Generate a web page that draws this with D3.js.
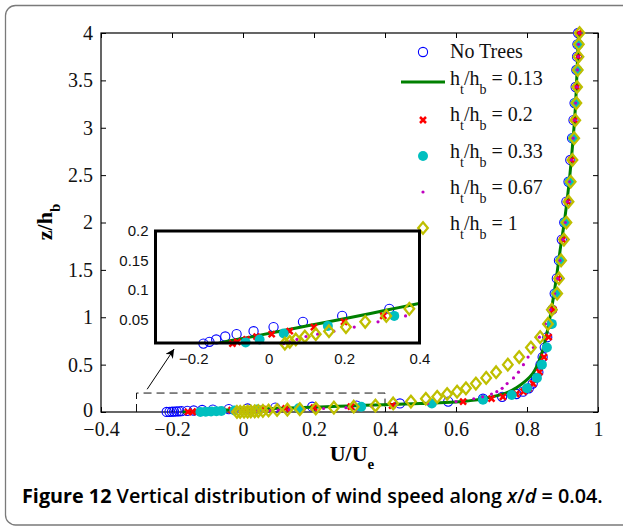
<!DOCTYPE html>
<html><head><meta charset="utf-8">
<script src="https://cdn.jsdelivr.net/npm/d3@7/dist/d3.min.js"></script>
<style>body{margin:0;background:#fff}svg{display:block}</style>
</head><body>
<svg id="c" width="623" height="527"></svg>
<script>
// ---------- data ----------
const xTicks = [-0.4, -0.2, 0, 0.2, 0.4, 0.6, 0.8, 1];
const yTicks = [0, 0.5, 1, 1.5, 2, 2.5, 3, 3.5, 4];
const insetXTicks = [-0.2, 0, 0.2, 0.4];
const insetYTicks = [0.05, 0.1, 0.15, 0.2];
const seriesLabels = ["No Trees", "0.13", "0.2", "0.33", "0.67", "1"];

// shared height levels (No Trees, 0.67, 1)
const zLevels = [0.0005,0.0015,0.003,0.0045,0.006,0.0075,0.009,0.012,0.016,0.021,0.025,0.03,0.037,0.046,0.056,0.068,0.09,0.11,0.14,0.16,0.19,0.215,0.25,0.30,0.36,0.42,0.50,0.58,0.68,0.79,0.93,1.08,1.25,1.41,1.60,1.82,2.00,2.22,2.43,2.66,2.89,3.08,3.26,3.43,3.61,3.75,3.88,4.00];
const uNoTrees = [-0.215,-0.207,-0.200,-0.194,-0.187,-0.180,-0.173,-0.157,-0.139,-0.115,-0.085,-0.04,0.013,0.091,0.195,0.32,0.442,0.578,0.676,0.73,0.77,0.789,0.805,0.816,0.825,0.832,0.838,0.844,0.85,0.857,0.864,0.871,0.878,0.884,0.890,0.898,0.905,0.911,0.917,0.922,0.927,0.931,0.934,0.937,0.939,0.941,0.942,0.944];
const uH067 = [-0.03,-0.02,-0.01,0.0,0.012,0.025,0.04,0.055,0.075,0.099,0.13,0.173,0.227,0.29,0.363,0.43,0.52,0.6,0.65,0.675,0.70,0.715,0.73,0.744,0.762,0.776,0.79,0.803,0.818,0.835,0.852,0.866,0.878,0.886,0.893,0.901,0.908,0.914,0.92,0.925,0.93,0.934,0.937,0.94,0.942,0.944,0.945,0.947];
const uH1 = [-0.017,-0.008,0.003,0.013,0.022,0.033,0.043,0.056,0.072,0.096,0.125,0.16,0.205,0.256,0.312,0.373,0.423,0.473,0.515,0.547,0.575,0.603,0.628,0.656,0.685,0.713,0.746,0.778,0.811,0.837,0.859,0.870,0.885,0.890,0.896,0.904,0.911,0.917,0.923,0.928,0.933,0.936,0.939,0.941,0.943,0.945,0.946,0.948];

// h_t/h_b = 0.2
const zH02 = [0.0005,0.0015,0.003,0.0045,0.006,0.0075,0.009,0.012,0.016,0.021,0.025,0.03,0.037,0.046,0.056,0.068,0.09,0.11,0.14,0.16,0.19,0.215,0.25,0.30,0.36,0.42,0.50,0.58,0.68,0.79,0.93,1.08,1.25,1.41,1.82,2.22,2.66,3.08,3.43,3.75,4.00];
const uH02 = [-0.155,-0.142,-0.13,-0.12,-0.113,-0.105,-0.096,-0.083,-0.059,-0.032,0.008,0.056,0.12,0.2,0.304,0.42,0.53,0.62,0.70,0.732,0.77,0.79,0.805,0.817,0.827,0.835,0.842,0.848,0.854,0.861,0.868,0.874,0.881,0.887,0.900,0.914,0.925,0.934,0.940,0.944,0.946];

// h_t/h_b = 0.33
const zH033 = [0.001,0.003,0.005,0.007,0.011,0.016,0.026,0.039,0.056,0.09,0.13,0.18,0.25,0.36,0.50,0.68,0.93,1.25,1.60,2.00,2.43,2.89,3.26,3.61,3.88];
const uH033 = [-0.12,-0.105,-0.09,-0.075,-0.061,-0.024,0.04,0.157,0.333,0.532,0.676,0.757,0.80,0.828,0.842,0.856,0.87,0.882,0.894,0.907,0.92,0.93,0.937,0.942,0.945];

// h_t/h_b = 0.13 (line)
const zLine = [0.001,0.005,0.01,0.02,0.03,0.04,0.05,0.06,0.07,0.08,0.09,0.1,0.12,0.15,0.2,0.26,0.33,0.41,0.5,0.6,0.7,0.83,1.0,1.2,1.45,1.7,2.0,2.4,2.8,3.2,3.6,4.0];
const uLine = [-0.17,-0.15,-0.128,-0.049,0.03,0.11,0.19,0.27,0.345,0.42,0.5,0.57,0.64,0.69,0.74,0.772,0.797,0.817,0.83,0.84,0.848,0.856,0.865,0.874,0.884,0.893,0.905,0.918,0.928,0.936,0.941,0.945];

// zoom window and arrow (data coordinates)
const zoomU = [-0.3, 0.4];
const zoomZ = [0, 0.2];
const arrowFrom = [-0.27, 0.24];
const arrowTo = [-0.194, 0.665];

// ---------- drawing ----------
const svg = d3.select('#c');
const SERIF = '"Liberation Serif","Times New Roman",serif';
const SANS = '"Liberation Sans",Arial,sans-serif';
const C = {blue:'#0000ff', green:'#008000', red:'#ff0000', cyan:'#00bfbf', mag:'#bf00bf', olive:'#bfbf00'};

svg.append('rect').attr('x',5.5).attr('y',5.5).attr('width',680).attr('height',519.5)
  .attr('rx',10).attr('fill','none').attr('stroke','#7a7a7a').attr('stroke-width',1.3);

const x = d3.scaleLinear().domain([-0.4, 1]).range([101, 598]);
const y = d3.scaleLinear().domain([0, 4]).range([412, 33]);
const fmt = d => d < 0 ? '\u2212' + Math.abs(d) : String(d);

function styleAxis(g, size, fam) {
  g.select('.domain').remove();
  g.selectAll('line').attr('stroke', '#000');
  g.selectAll('text').attr('font-family', fam).attr('font-size', size).attr('fill', '#111');
}

const main = svg.append('g');
main.append('g').attr('transform', `translate(0,${y(0)})`)
  .call(d3.axisBottom(x).tickValues(xTicks).tickSizeInner(-5).tickSizeOuter(0).tickPadding(10).tickFormat(fmt))
  .call(g => styleAxis(g, 20, SERIF));
main.append('g').attr('transform', `translate(0,${y(4)})`)
  .call(d3.axisTop(x).tickValues(xTicks).tickSizeInner(-5).tickSizeOuter(0).tickFormat(''))
  .call(g => styleAxis(g, 20, SERIF));
main.append('g').attr('transform', `translate(${x(-0.4)},0)`)
  .call(d3.axisLeft(y).tickValues(yTicks).tickSizeInner(-5).tickSizeOuter(0).tickPadding(8).tickFormat(fmt))
  .call(g => styleAxis(g, 20, SERIF))
  .call(g => g.selectAll('text').filter(d => d === 0).attr('dy', '0.22em'));
main.append('g').attr('transform', `translate(${x(1)},0)`)
  .call(d3.axisRight(y).tickValues(yTicks).tickSizeInner(-5).tickSizeOuter(0).tickFormat(''))
  .call(g => styleAxis(g, 20, SERIF));
main.append('rect').attr('x', x(-0.4)).attr('y', y(4)).attr('width', x(1) - x(-0.4)).attr('height', y(0) - y(4))
  .attr('fill', 'none').attr('stroke', '#000').attr('stroke-width', 1.2);

// axis labels
const xl = svg.append('text').attr('x', 352).attr('y', 461).attr('text-anchor', 'middle')
  .attr('font-family', SERIF).attr('font-weight', 'bold').attr('font-size', 22);
xl.append('tspan').text('U/U');
xl.append('tspan').attr('dy', 8).attr('font-size', 15).text('e');
const yl = svg.append('text').attr('transform', 'translate(52,222) rotate(-90)').attr('text-anchor', 'middle')
  .attr('font-family', SERIF).attr('font-weight', 'bold').attr('font-size', 22);
yl.append('tspan').text('z/h');
yl.append('tspan').attr('dy', 8).attr('font-size', 15).text('b');

// dashed zoom window + arrow
main.append('path')
  .attr('d', `M${x(zoomU[0])},${y(zoomZ[0])}V${y(zoomZ[1])}H${x(zoomU[1])}V${y(zoomZ[0])}`)
  .attr('fill', 'none').attr('stroke', '#111').attr('stroke-width', 1).attr('stroke-dasharray', '8,5');
svg.append('defs').append('marker').attr('id', 'ah').attr('viewBox', '0 0 10 10').attr('refX', 10).attr('refY', 5)
  .attr('markerWidth', 11).attr('markerHeight', 9).attr('markerUnits', 'userSpaceOnUse').attr('orient', 'auto')
  .append('path').attr('d', 'M0,0L10,5L0,10L3,5Z').attr('fill', '#000');
main.append('line').attr('x1', x(arrowFrom[0])).attr('y1', y(arrowFrom[1]))
  .attr('x2', x(arrowTo[0])).attr('y2', y(arrowTo[1]))
  .attr('stroke', '#000').attr('stroke-width', 1).attr('marker-end', 'url(#ah)');

// marker painters
function circleOpen(sel) { sel.append('circle').attr('r', 4.6).attr('fill', 'none').attr('stroke', C.blue).attr('stroke-width', 1.1); }
function xMark(sel) { sel.append('path').attr('d', 'M-3,-3L3,3M-3,3L3,-3').attr('stroke', C.red).attr('stroke-width', 2.5).attr('fill', 'none'); }
function cyanDot(sel) { sel.append('circle').attr('r', 5).attr('fill', C.cyan); }
function magDot(sel) { sel.append('circle').attr('r', 1.6).attr('fill', C.mag); }
function diamond(sel) { sel.append('path').attr('d', 'M0,-5.8L4.8,0L0,5.8L-4.8,0Z').attr('fill', 'none').attr('stroke', C.olive).attr('stroke-width', 2.3).attr('stroke-linejoin', 'miter'); }

const pts = (us, zs) => us.map((u, i) => ({u, z: zs[i]}));
const series = [
  {data: pts(uNoTrees, zLevels), paint: circleOpen},
  {line: true, data: pts(uLine, zLine)},
  {data: pts(uH02, zH02), paint: xMark},
  {data: pts(uH033, zH033), paint: cyanDot},
  {data: pts(uH067, zLevels), paint: magDot},
  {data: pts(uH1, zLevels), paint: diamond}
];

function drawSeries(g, xs, ys, filter, clipId) {
  series.forEach(s => {
    if (s.line) {
      const ln = d3.line().x(d => xs(d.u)).y(d => ys(d.z)).curve(d3.curveMonotoneY);
      const p = g.append('path').attr('d', ln(s.data)).attr('fill', 'none').attr('stroke', C.green).attr('stroke-width', 3);
      if (clipId) p.attr('clip-path', `url(#${clipId})`);
    } else {
      g.selectAll(null).data(s.data.filter(filter)).enter().append('g')
        .attr('transform', d => `translate(${xs(d.u)},${ys(d.z)})`)
        .each(function () { s.paint(d3.select(this)); });
    }
  });
}
drawSeries(main.append('g'), x, y, () => true, null);

// legend
const legY = [52, 82, 120, 156, 192, 228];
const legBase = [58, 85, 121, 158, 194, 230];
const leg = svg.append('g');
seriesLabels.forEach((lab, i) => {
  const s = series[i];
  if (s.line) {
    leg.append('line').attr('x1', 401).attr('x2', 445).attr('y1', legY[i]).attr('y2', legY[i])
      .attr('stroke', C.green).attr('stroke-width', 3);
  } else {
    const g = leg.append('g').attr('transform', `translate(423,${legY[i]})`);
    s.paint(g);
  }
  const t = leg.append('text').attr('x', 450).attr('y', legBase[i]).attr('font-family', SERIF).attr('font-size', 20).attr('fill', '#111');
  if (i === 0) { t.text(lab); }
  else {
    t.append('tspan').text('h');
    t.append('tspan').attr('dy', 9).attr('font-size', 14).text('t');
    t.append('tspan').attr('dy', -9).text('/h');
    t.append('tspan').attr('dy', 9).attr('font-size', 14).text('b');
    t.append('tspan').attr('dy', -9).text(' = ' + lab);
  }
});

// inset
const xi = d3.scaleLinear().domain([-0.3, 0.4]).range([155.5, 419.5]);
const yi = d3.scaleLinear().domain([0.01, 0.2]).range([343, 231]);
const inset = svg.append('g');
inset.append('rect').attr('x', xi(-0.3)).attr('y', yi(0.2)).attr('width', xi(0.4) - xi(-0.3)).attr('height', yi(0.01) - yi(0.2)).attr('fill', '#fff');
svg.select('defs').append('clipPath').attr('id', 'ic').append('rect')
  .attr('x', xi(-0.3)).attr('y', yi(0.2)).attr('width', xi(0.4) - xi(-0.3)).attr('height', yi(0.01) - yi(0.2));
drawSeries(inset.append('g'), xi, yi, d => d.z >= 0.008 && d.z <= 0.2 && d.u >= -0.3 && d.u <= 0.4, 'ic');
inset.append('g').attr('transform', `translate(0,${yi(0.01)})`)
  .call(d3.axisBottom(xi).tickValues(insetXTicks).tickSize(0).tickPadding(10).tickFormat(fmt))
  .call(g => styleAxis(g, 15, SANS));
inset.append('g').attr('transform', `translate(${xi(-0.3)},0)`)
  .call(d3.axisLeft(yi).tickValues(insetYTicks).tickSize(0).tickPadding(7).tickFormat(d => String(d)))
  .call(g => styleAxis(g, 15, SANS));
inset.append('rect').attr('x', xi(-0.3)).attr('y', yi(0.2)).attr('width', xi(0.4) - xi(-0.3)).attr('height', yi(0.01) - yi(0.2))
  .attr('fill', 'none').attr('stroke', '#000').attr('stroke-width', 3);

// caption
const cap = svg.append('text').attr('x', 22).attr('y', 503).attr('font-family', '"Open Sans","Noto Sans",sans-serif')
  .attr('font-size', 16).attr('fill', '#000');
cap.append('tspan').attr('font-weight', 700).text('Figure 12 ');
cap.append('tspan').attr('font-weight', 600).text('Vertical distribution of wind speed along ');
cap.append('tspan').attr('font-style', 'italic').attr('font-weight', 600).text('x');
cap.append('tspan').attr('font-weight', 600).text('/');
cap.append('tspan').attr('font-style', 'italic').attr('font-weight', 600).text('d');
cap.append('tspan').attr('font-weight', 600).text(' = 0.04.');
const w = cap.node().getComputedTextLength();
cap.attr('font-size', 16 * 581 / w);
</script>
</body></html>
